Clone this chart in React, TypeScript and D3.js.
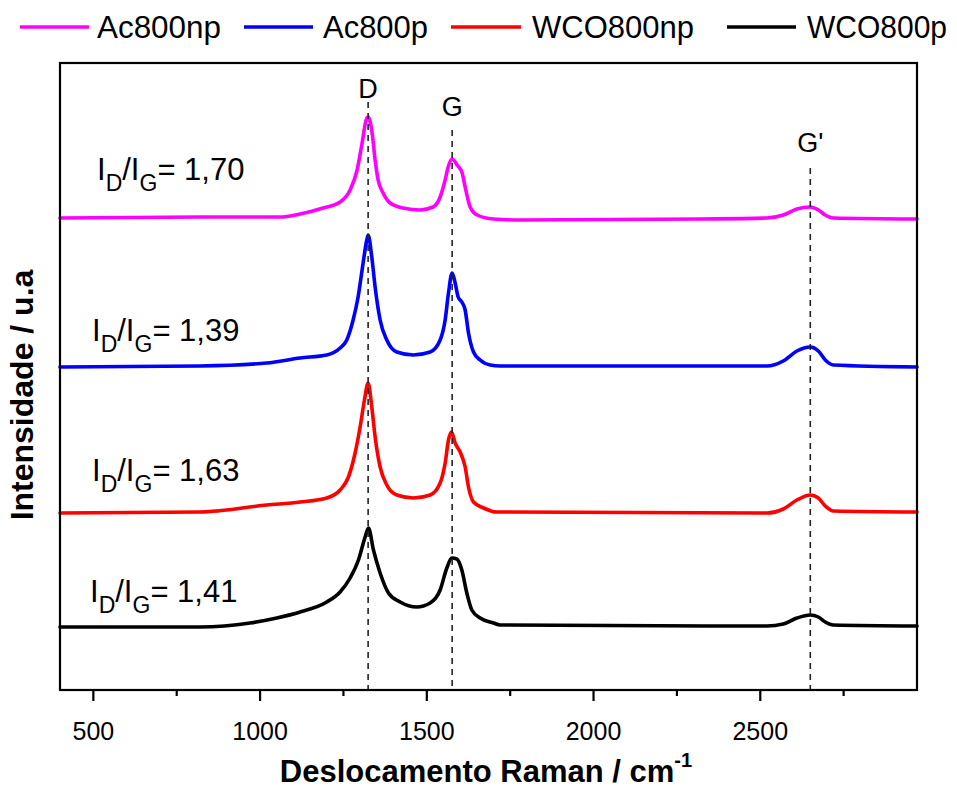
import React from 'react';
import * as d3 from 'd3';

// ---- Data (Raman shift in cm^-1, intensity in a.u., curves stacked with offsets) ----
const seriesNames = ['Ac800np', 'Ac800p', 'WCO800np', 'WCO800p'];
const seriesColors = ['#ff00ff', '#0000ff', '#ff0000', '#000000'];
const ratioValues = ['1,70', '1,39', '1,63', '1,41'];

const ac800npShift = [400, 820, 1060, 1120, 1189, 1240, 1270, 1291, 1306, 1318, 1324, 1336, 1345, 1354, 1369, 1390, 1429, 1480, 1519, 1540, 1555, 1564, 1576, 1591, 1606, 1615, 1630, 1651, 1699, 1780, 2320, 2520, 2569, 2610, 2650, 2674, 2695, 2719, 2970];
const ac800npInt = [472, 473, 473, 476, 482, 488, 500, 520, 547, 570, 573, 557, 530, 510, 497, 487, 482, 480, 483, 493, 510, 523, 531, 525, 517, 503, 483, 475, 471, 470, 471, 472, 475, 481, 483, 480, 475, 472, 471];

const ac800pShift = [400, 820, 1020, 1120, 1200, 1240, 1260, 1279, 1294, 1309, 1320, 1324, 1335, 1345, 1360, 1380, 1410, 1459, 1510, 1540, 1555, 1565, 1576, 1585, 1594, 1605, 1615, 1625, 1640, 1660, 1690, 1720, 2520, 2569, 2610, 2650, 2674, 2695, 2719, 2970];
const ac800pInt = [323, 324, 327, 332, 335, 342, 350, 370, 393, 427, 450, 455, 433, 403, 370, 350, 338, 335, 338, 350, 370, 397, 417, 407, 393, 388, 380, 357, 338, 330, 325, 324, 324, 329, 339, 343, 339, 330, 325, 323];

const wco800npShift = [400, 820, 1020, 1120, 1200, 1240, 1265, 1285, 1300, 1313, 1324, 1335, 1345, 1360, 1380, 1410, 1460, 1510, 1540, 1555, 1565, 1574, 1585, 1600, 1615, 1625, 1640, 1670, 1710, 2520, 2569, 2610, 2650, 2674, 2695, 2719, 2970];
const wco800npInt = [177, 178, 185, 188, 192, 200, 213, 237, 263, 290, 307, 283, 253, 223, 205, 195, 192, 195, 207, 227, 250, 258, 247, 238, 223, 203, 188, 182, 178, 177, 181, 190, 195, 192, 184, 179, 178];

const wco800pShift = [400, 820, 970, 1050, 1120, 1200, 1240, 1270, 1295, 1315, 1325, 1340, 1360, 1385, 1420, 1470, 1510, 1540, 1560, 1575, 1590, 1605, 1620, 1635, 1660, 1700, 1720, 2520, 2569, 2610, 2650, 2674, 2695, 2719, 2970];
const wco800pInt = [63, 63, 67, 72, 78, 88, 98, 112, 130, 153, 162, 140, 117, 97, 88, 83, 87, 100, 122, 132, 131, 120, 97, 80, 72, 67, 65, 64, 66, 72, 75, 73, 68, 65, 64];

const seriesShift = [ac800npShift, ac800pShift, wco800npShift, wco800pShift];
const seriesInt = [ac800npInt, ac800pInt, wco800npInt, wco800pInt];

// ratio label anchors (shift, intensity)
const ratioAnchorShift = [511, 496, 496, 490];
const ratioAnchorInt = [510, 349, 209, 88];

const xTickValues = [500, 1000, 1500, 2000, 2500];
const xMinorTicks = [750, 1250, 1750, 2250, 2750];
const bandShift = [1324, 1576, 2650];
const bandLabels = ['D', 'G', "G'"];
const bandLabelInt = [592, 574, 538];
const bandLineTop = [588, 560, 522];

const xDomain = [400, 2970];
const yDomain = [0, 627];

// ---- Layout ----
const W = 957;
const H = 790;
const left = 60, right = 917, top = 63, bottom = 690;
const FONT = '"Liberation Sans", Arial, Helvetica, sans-serif';

export default function App() {
  const x = d3.scaleLinear().domain(xDomain).range([left, right]);
  const y = d3.scaleLinear().domain(yDomain).range([bottom, top]);

  const line = d3
    .line<[number, number]>()
    .x((d) => x(d[0]))
    .y((d) => y(d[1]))
    .curve(d3.curveMonotoneX);

  const legendItems = [
    { lineX: 20, lineW: 69, textX: 97, textW: 124 },
    { lineX: 244, lineW: 69, textX: 323, textW: 105 },
    { lineX: 451, lineW: 70, textX: 532, textW: 162 },
    { lineX: 727, lineW: 69, textX: 807, textW: 140 },
  ];

  return (
    <svg
      width={W}
      height={H}
      style={{ position: 'absolute', left: 0, top: 0, background: '#fff' }}
      fontFamily={FONT}
    >
      <rect x={0} y={0} width={W} height={H} fill="#fff" />

      {/* legend */}
      {seriesNames.map((name, i) => (
        <g key={name}>
          <line
            x1={legendItems[i].lineX}
            x2={legendItems[i].lineX + legendItems[i].lineW}
            y1={27}
            y2={27}
            stroke={seriesColors[i]}
            strokeWidth={3.5}
          />
          <text
            x={legendItems[i].textX}
            y={38}
            fontSize={31}
            textLength={legendItems[i].textW}
            lengthAdjust="spacingAndGlyphs"
            fill="#000"
          >
            {name}
          </text>
        </g>
      ))}

      {/* spectra */}
      {seriesNames.map((name, i) => {
        const pts = seriesShift[i].map((s, j) => [s, seriesInt[i][j]] as [number, number]);
        return (
          <path
            key={name}
            d={line(pts) || ''}
            fill="none"
            stroke={seriesColors[i]}
            strokeWidth={3.6}
            strokeLinejoin="round"
            strokeLinecap="round"
          />
        );
      })}

      {/* band dashed lines and labels */}
      {bandShift.map((b, i) => (
        <g key={bandLabels[i]}>
          <line
            x1={x(b)}
            x2={x(b)}
            y1={y(bandLineTop[i])}
            y2={bottom}
            stroke="#222"
            strokeWidth={1.6}
            strokeDasharray="6,5"
          />
          <text x={x(b)} y={y(bandLabelInt[i])} fontSize={27} textAnchor="middle" fill="#000">
            {bandLabels[i]}
          </text>
        </g>
      ))}

      {/* ratio labels */}
      {ratioValues.map((r, i) => (
        <text
          key={r}
          x={x(ratioAnchorShift[i])}
          y={y(ratioAnchorInt[i])}
          fontSize={31}
          fill="#000"
        >
          <tspan>I</tspan>
          <tspan fontSize={23} dy={11}>D</tspan>
          <tspan fontSize={31} dy={-11}>/I</tspan>
          <tspan fontSize={23} dy={11}>G</tspan>
          <tspan fontSize={31} dy={-11}>{'= ' + r}</tspan>
        </text>
      ))}

      {/* frame */}
      <rect
        x={left}
        y={top}
        width={right - left}
        height={bottom - top}
        fill="none"
        stroke="#000"
        strokeWidth={2.2}
      />

      {/* x ticks */}
      {xTickValues.map((t) => (
        <g key={t}>
          <line x1={x(t)} x2={x(t)} y1={bottom} y2={bottom + 11} stroke="#000" strokeWidth={2.2} />
          <text x={x(t)} y={bottom + 50} fontSize={25} textAnchor="middle" fill="#000">
            {t}
          </text>
        </g>
      ))}
      {xMinorTicks.map((t) => (
        <line key={t} x1={x(t)} x2={x(t)} y1={bottom} y2={bottom + 6} stroke="#000" strokeWidth={2.2} />
      ))}

      {/* axis titles */}
      <text x={486} y={782} fontSize={31} fontWeight="bold" textAnchor="middle" fill="#000">
        Deslocamento Raman / cm
        <tspan fontSize={20} dy={-15}>-1</tspan>
      </text>
      <text
        transform={`translate(33, 395) rotate(-90)`}
        fontSize={32}
        fontWeight="bold"
        textAnchor="middle"
        fill="#000"
      >
        Intensidade / u.a
      </text>
    </svg>
  );
}
